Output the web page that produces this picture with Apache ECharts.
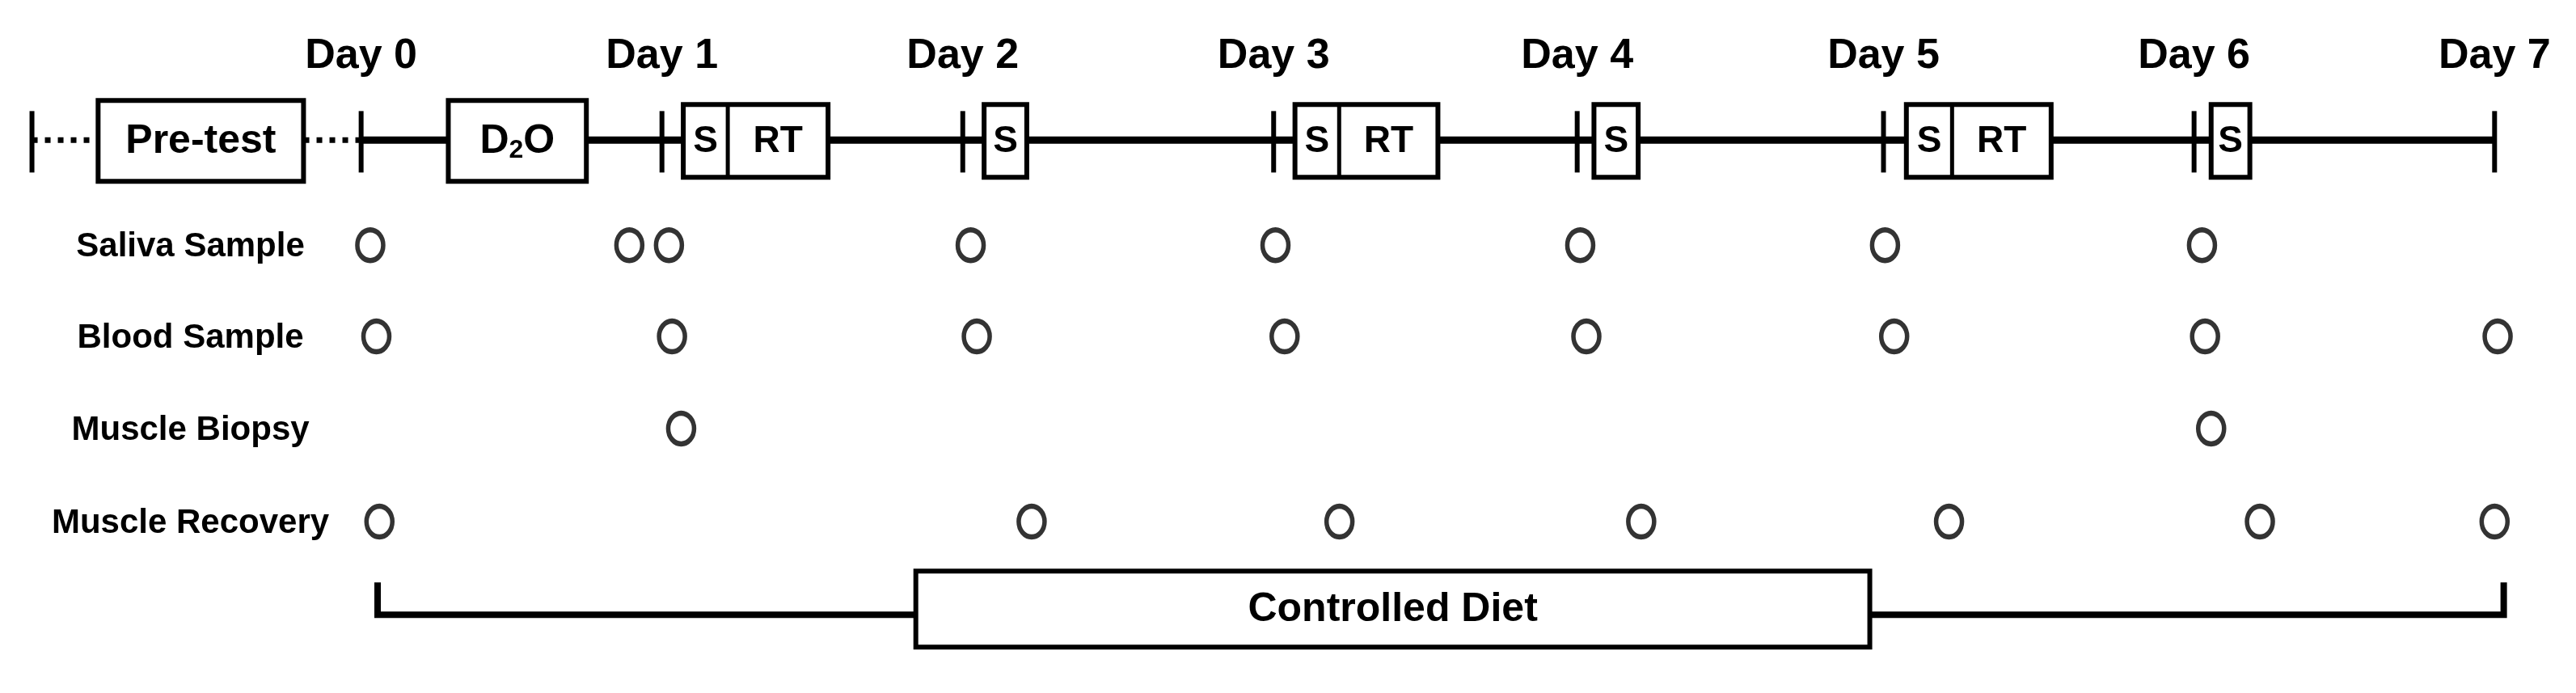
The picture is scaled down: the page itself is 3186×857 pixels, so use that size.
<!DOCTYPE html>
<html><head><meta charset="utf-8">
<script src="https://cdn.jsdelivr.net/npm/echarts@6/dist/echarts.min.js"></script>
<style>html,body{margin:0;padding:0;background:#fff}#c{width:3186px;height:857px}</style>
</head><body><div id="c"></div>
<script>
// ---- data (x in days, y in lane units) ----
const dayLabels = ['Day 0','Day 1','Day 2','Day 3','Day 4','Day 5','Day 6','Day 7'];
const dayTicks = [0, 0.987, 1.974, 2.994, 3.99, 4.995, 6.014, 7.0];
const preTick = -1.08;
const laneY = {timeline:0, saliva:1.14, blood:2.13, biopsy:3.13, recovery:4.14, diet:5.15};
const rowNames = ['Saliva Sample','Blood Sample','Muscle Biopsy','Muscle Recovery'];
const rowLaneKeys = ['saliva','blood','biopsy','recovery'];
const saliva = [0.03, 0.88, 1.01, 2.0, 3.0, 4.0, 5.0, 6.04];
const blood = [0.05, 1.02, 2.02, 3.03, 4.02, 5.03, 6.05, 7.01];
const biopsy = [1.05, 6.07];
const recovery = [0.06, 2.2, 3.21, 4.2, 5.21, 6.23, 7.0];
const bigBoxes = [[-0.863, -0.189, 'Pre-test'], [0.286, 0.739, 'D{sub|2}O']];
const sessionBoxes = [[1.057, 1.203, 1.532], [2.044, null, 2.184], [3.064, 3.209, 3.533], [4.045, null, 4.19], [5.07, 5.22, 5.545], [6.07, null, 6.197]];
const diet = {start:0.054, end:7.03, boxStart:1.82, boxEnd:4.95, label:'Controlled Diet'};

const FONT = '"Liberation Sans", Arial, sans-serif';
const chart = echarts.init(document.getElementById('c'));
function pts(arr, key){ return arr.map(x => [x, laneY[key]]); }
const circleStyle = {color:'#fff', borderColor:'#000', borderWidth:6};
function circles(arr,key){ return {type:'scatter', data:pts(arr,key), symbol:'circle', symbolSize:[32,38], itemStyle:circleStyle, z:5, animation:false}; }

chart.setOption({
  animation:false,
  grid:{left:32, right:63, top:59.4, height:851},
  xAxis:{type:'value', min:-1.1, max:7.1, show:false},
  yAxis:{type:'value', min:-1, max:6, inverse:true, show:false},
  series:[
    {type:'custom', data:[[0]], z:2, renderItem:(p,api)=>{
      const y = api.coord([0,laneY.timeline])[1];
      const a = api.coord([0,0])[0], b = api.coord([dayTicks[7],0])[0], l = api.coord([preTick,0])[0];
      const ch = [
        {type:'line', shape:{x1:l,y1:y,x2:a,y2:y}, style:{stroke:'#000', lineWidth:7, lineDash:[7,9]}},
        {type:'line', shape:{x1:a,y1:y,x2:b,y2:y}, style:{stroke:'#000', lineWidth:9}}
      ];
      [preTick].concat(dayTicks).forEach(t=>{
        const x = api.coord([t,0])[0];
        ch.push({type:'line', shape:{x1:x,y1:y-36,x2:x,y2:y+40}, style:{stroke:'#000', lineWidth:6}});
      });
      return {type:'group', children:ch};
    }},
    {type:'custom', data:dayTicks.map((t,i)=>[t,i]), z:3, renderItem:(p,api)=>{
      const x = api.coord([api.value(0),0])[0];
      return {type:'text', x:x, y:70, style:{text:dayLabels[api.value(1)], font:'bold 52px '+FONT, fill:'#000', align:'center', verticalAlign:'middle'}};
    }},
    {type:'custom', data:bigBoxes.map((b,i)=>[b[0],b[1],i]), z:4, renderItem:(p,api)=>{
      const x1 = api.coord([api.value(0),0])[0], x2 = api.coord([api.value(1),0])[0], y = api.coord([0,laneY.timeline])[1];
      return {type:'group', children:[
        {type:'rect', shape:{x:x1,y:y-49,width:x2-x1,height:100}, style:{fill:'#fff', stroke:'#000', lineWidth:6}},
        {type:'text', x:(x1+x2)/2, y:y+2, style:{text:bigBoxes[api.value(2)][2], font:'bold 50px '+FONT, fill:'#000', align:'center', verticalAlign:'middle', rich:{sub:{font:'bold 32px '+FONT, verticalAlign:'bottom', padding:[22,0,0,0]}}}}
      ]};
    }},
    {type:'custom', data:sessionBoxes.map((b,i)=>[b[0],b[2],i]), z:4, renderItem:(p,api)=>{
      const b = sessionBoxes[api.value(2)];
      const x1 = api.coord([b[0],0])[0], x2 = api.coord([b[2],0])[0], y = api.coord([0,laneY.timeline])[1];
      const ch = [{type:'rect', shape:{x:x1,y:y-44,width:x2-x1,height:90}, style:{fill:'#fff', stroke:'#000', lineWidth:6}}];
      const f = 'bold 46px '+FONT;
      if (b[1] !== null) {
        const xd = api.coord([b[1],0])[0];
        ch.push({type:'line', shape:{x1:xd,y1:y-44,x2:xd,y2:y+46}, style:{stroke:'#000', lineWidth:5}});
        ch.push({type:'text', x:(x1+xd)/2, y:y+2, style:{text:'S', font:f, fill:'#000', align:'center', verticalAlign:'middle'}});
        ch.push({type:'text', x:(xd+x2)/2, y:y+2, style:{text:'RT', font:f, fill:'#000', align:'center', verticalAlign:'middle'}});
      } else {
        ch.push({type:'text', x:(x1+x2)/2, y:y+2, style:{text:'S', font:f, fill:'#000', align:'center', verticalAlign:'middle'}});
      }
      return {type:'group', children:ch};
    }},
    {type:'custom', data:rowNames.map((n,i)=>[-0.56, laneY[rowLaneKeys[i]], i]), z:3, renderItem:(p,api)=>{
      const c = api.coord([api.value(0), api.value(1)]);
      return {type:'text', x:c[0], y:c[1]+2, style:{text:rowNames[api.value(2)], font:'bold 42px '+FONT, fill:'#000', align:'center', verticalAlign:'middle'}};
    }},
    circles(saliva,'saliva'), circles(blood,'blood'), circles(biopsy,'biopsy'), circles(recovery,'recovery'),
    {type:'custom', data:[[diet.start, diet.end]], z:4, renderItem:(p,api)=>{
      const y = api.coord([0,laneY.diet])[1];
      const a = api.coord([diet.start,0])[0], b = api.coord([diet.end,0])[0];
      const bs = api.coord([diet.boxStart,0])[0], be = api.coord([diet.boxEnd,0])[0];
      return {type:'group', children:[
        {type:'polyline', shape:{points:[[a,y-40],[a,y],[b,y],[b,y-40]]}, style:{stroke:'#000', lineWidth:8, fill:null}},
        {type:'rect', shape:{x:bs,y:y-54,width:be-bs,height:94}, style:{fill:'#fff', stroke:'#000', lineWidth:6}},
        {type:'text', x:(bs+be)/2, y:y-6, style:{text:diet.label, font:'bold 50px '+FONT, fill:'#000', align:'center', verticalAlign:'middle'}}
      ]};
    }}
  ]
});
</script></body></html>
